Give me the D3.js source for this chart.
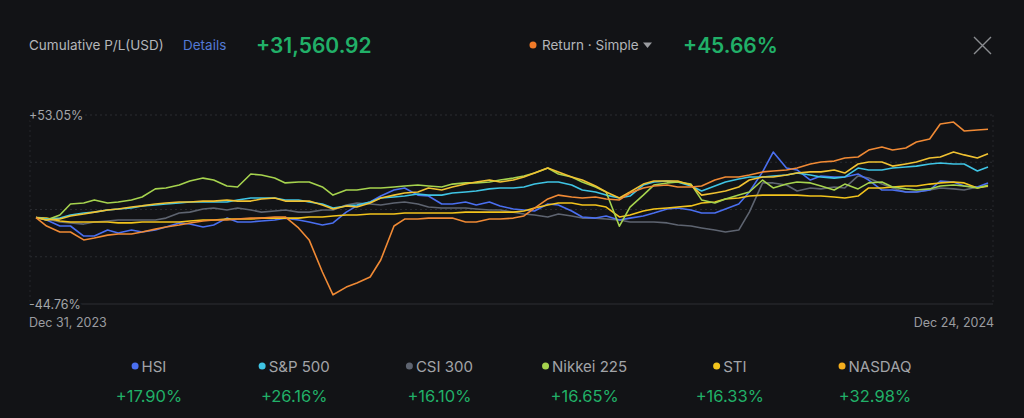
<!DOCTYPE html>
<html>
<head>
<meta charset="utf-8">
<script src="https://cdn.jsdelivr.net/npm/d3@7"></script>
<style>
html, body { margin: 0; padding: 0; background: #121316; }
svg { display: block; font-family: Inter, "Noto Sans", sans-serif; }
</style>
</head>
<body>
<svg id="chart" width="1024" height="418"></svg>
<script>
// sample dates: evenly spaced between the two axis dates
var startDate = new Date(2023, 11, 31);
var endDate = new Date(2024, 11, 24);
var sampleCount = 81;

// cumulative return (%)
var hsi = [0,-1.3,-4.4,-4.4,-9.6,-9.6,-6.5,-8.0,-6.5,-7.5, -6.5,-4.9,-2.8,-3.4,-4.9,-3.9,-0.3,-2.3,-2.3,-1.8,
  -1.3,-0.3,-1.3,-2.3,-3.9,-2.8,2.8,6.0,8.0,11.1, 14.2,15.3,11.6,11.1,7.0,7.0,8.0,6.5,8.0,6.0,
  4.4,3.9,3.4,7.0,6.5,3.4,0.3,-0.3,0.8,-1.3, -0.3,0.8,2.3,4.4,4.9,3.9,2.3,2.3,4.4,7.0,
  13.2,23.6,33.9,25.6,24.6,19.4,21.5,21.0,21.0,22.5, 19.4,14.2,14.2,13.2,13.2,14.2,18.9,18.4,16.3,15.8, 17.90];
var sp500 = [0,-0.8,-0.3,1.3,2.3,2.8,3.9,4.4,4.9,6.0, 6.5,7.0,7.5,8.0,8.0,8.0,8.0,9.1,10.1,10.1,
  10.1,9.1,9.1,8.0,7.0,4.9,6.0,6.5,8.0,10.1, 10.6,11.1,12.2,11.6,11.6,12.7,13.2,13.7,14.8,15.3,
  15.3,15.8,17.3,18.4,18.4,16.8,14.2,13.2,11.6,10.1, 11.1,16.8,18.4,18.9,18.4,16.3,13.7,16.3,18.4,19.9,
  21.0,21.0,21.5,22.0,23.0,22.0,21.0,20.4,21.0,25.6, 24.6,24.6,25.6,26.1,26.6,27.7,28.2,27.7,27.7,24.1, 26.16];
var csi300 = [0,-0.8,-2.3,-2.8,-3.4,-2.3,-1.8,-1.3,-1.3,-1.3, -1.3,-0.3,2.3,2.8,4.4,4.9,3.9,4.9,3.9,2.8,
  3.4,3.9,2.8,2.8,3.9,3.9,6.5,7.5,7.0,6.5, 7.5,8.0,7.0,5.4,4.9,4.9,4.9,4.4,3.9,3.9,
  2.8,1.8,1.3,0.3,1.8,0.8,-0.3,-0.3,-0.8,-1.3, -2.3,-2.3,-2.3,-2.8,-3.9,-4.4,-5.4,-6.5,-7.5,-6.5,
  2.8,17.9,17.9,16.8,13.7,15.3,14.8,15.8,15.3,21.5, 20.4,17.3,15.3,13.2,13.2,14.2,15.3,14.8,14.2,15.8, 16.10];
var nikkei = [0,-1.3,1.3,7.0,7.5,9.1,7.5,8.0,9.1,10.6, 14.8,15.3,16.8,18.9,20.4,19.4,16.3,15.8,22.5,22.0,
  20.4,17.9,18.4,18.4,15.8,11.6,14.2,14.2,15.3,15.3, 15.8,16.3,16.8,16.3,15.8,17.3,17.9,17.9,18.4,19.4,
  20.4,21.5,23.0,25.6,22.5,21.0,18.4,15.8,13.2,-4.5, 5.4,11.6,16.8,17.9,18.4,17.3,9.1,7.5,9.6,11.6,
  13.2,19.4,15.3,17.3,18.4,17.9,16.3,14.2,17.3,14.8, 17.9,18.4,15.8,14.8,14.2,14.8,16.3,16.8,16.3,15.3, 16.65];
var sti = [0,-0.3,-1.8,-2.3,-2.3,-2.3,-2.3,-2.8,-2.8,-2.3, -2.3,-2.3,-2.3,-1.8,-1.3,-1.3,-0.8,-0.8,-0.8,-0.3,
  -0.3,-0.3,-0.3,0.3,0.3,0.8,1.3,1.3,1.8,1.8, 1.8,2.3,2.3,2.3,2.3,2.3,2.8,2.8,2.8,2.8,
  2.8,3.4,4.9,6.5,7.5,7.5,6.5,6.5,5.4,0.3, 1.3,3.4,4.4,4.9,5.4,6.0,7.5,8.0,9.6,10.1,
  11.1,11.6,11.6,11.6,11.6,11.1,11.1,10.6,10.1,11.1, 15.3,15.3,15.8,16.3,16.3,17.3,17.9,18.4,17.9,15.3, 16.33];
var nasdaq = [0,-1.3,-0.8,0.8,1.8,2.8,3.9,4.4,5.4,6.0, 7.0,7.5,8.0,8.0,8.5,8.5,9.1,8.5,8.5,9.6,
  10.1,8.5,8.5,8.5,6.5,4.4,6.0,5.4,7.5,10.1, 11.6,12.7,13.2,15.3,14.2,15.8,17.3,18.4,19.4,18.4,
  19.4,21.0,23.0,25.6,23.6,21.0,19.4,16.3,13.2,10.1, 13.2,17.3,18.9,18.9,18.9,16.8,11.6,12.7,13.7,15.8,
  19.4,21.0,21.0,22.0,23.0,23.6,23.6,24.6,23.0,27.7, 28.7,28.7,26.6,27.7,28.7,30.8,31.3,33.9,32.4,30.8, 32.98];
var portfolio = [0,-4.4,-7.5,-7.5,-11.6,-10.6,-9.1,-8.5,-8.5,-7.5, -6.0,-4.9,-3.9,-2.8,-1.8,-1.3,-1.3,-0.8,-0.3,-0.3,
  0.3,0.3,-5.4,-11.6,-28.2,-40.0,-36.0,-33.9,-30.8,-22.0, -4.4,-0.8,-0.8,-0.3,-0.3,-0.3,-2.3,-2.3,-0.8,-0.8,
  -0.3,0.8,4.9,9.6,11.6,10.6,10.1,10.6,9.6,9.1, 12.7,15.3,16.3,16.8,15.8,15.8,16.3,19.4,21.0,21.0,
  22.0,23.6,24.1,24.6,25.6,27.7,28.7,29.2,30.8,31.3, 34.9,36.5,34.9,36.0,39.1,40.6,48.4,49.4,44.8,45.3, 45.66];

var legendNames = ['HSI', 'S&P 500', 'CSI 300', 'Nikkei 225', 'STI', 'NASDAQ'];
var legendValues = ['+17.90%', '+26.16%', '+16.10%', '+16.65%', '+16.33%', '+32.98%'];
var legendColors = ['#4a6ff0', '#3fc4e4', '#5e6470', '#a6d34e', '#f3c41c', '#f2ad1e'];
var yMin = -44.76, yMax = 53.05;
var yTickLabels = ['+53.05%', '-44.76%'];
var xTickLabels = ['Dec 31, 2023', 'Dec 24, 2024'];

var bg = '#121316';
var green = '#21b068';
var svg = d3.select('#chart');

var dates = d3.range(sampleCount).map(function(i) {
	return d3.timeDay.offset(startDate, Math.round(i * d3.timeDay.count(startDate, endDate) / (sampleCount - 1)));
});

var x = d3.scaleTime().domain([startDate, endDate]).range([36, 988]);
var y = d3.scaleLinear().domain([yMin, yMax]).range([304, 115]);

//header
svg.append('text').attr('x', 29).attr('y', 50).attr('fill', '#b4b6ba')
	.style('font-size', '13.5px').text('Cumulative P/L(USD)');
svg.append('text').attr('x', 183).attr('y', 50).attr('fill', '#5279d4')
	.style('font-size', '13.5px').text('Details');
svg.append('text').attr('x', 256).attr('y', 53).attr('fill', green)
	.style('font-size', '21px').style('font-weight', 600).text('+31,560.92');
svg.append('circle').attr('cx', 533).attr('cy', 45).attr('r', 3.5).attr('fill', '#f07a28');
svg.append('text').attr('x', 542).attr('y', 49.5).attr('fill', '#b4b6ba')
	.style('font-size', '13.5px').text('Return · Simple');
svg.append('path').attr('d', 'M643,42.5 L652,42.5 L647.5,48 Z').attr('fill', '#9a9ca0');
svg.append('text').attr('x', 683).attr('y', 53).attr('fill', green)
	.style('font-size', '21px').style('font-weight', 600).text('+45.66%');
svg.append('path').attr('d', 'M974,37 L991,54 M991,37 L974,54')
	.attr('stroke', '#8a8c90').attr('stroke-width', 1.4);

//grid
var grid = svg.append('g');
var gridVals = d3.range(5).map(function(i) { return yMax - i * (yMax - yMin) / 4; });
grid.selectAll('line.h').data(gridVals).enter().append('line')
	.attr('x1', 30).attr('x2', 993)
	.attr('y1', function(d) { return y(d); }).attr('y2', function(d) { return y(d); })
	.attr('stroke', function(d, i) { return i == 4 ? '#2c2e33' : '#2a2c31'; })
	.attr('stroke-dasharray', function(d, i) { return i == 4 ? null : '2,3'; });
grid.selectAll('line.v').data([30, 993]).enter().append('line')
	.attr('x1', function(d) { return d; }).attr('x2', function(d) { return d; })
	.attr('y1', 115).attr('y2', 304)
	.attr('stroke', '#25272b').attr('stroke-dasharray', '2,3');

//y labels on top of the grid
svg.selectAll('text.ylab').data([yMax, yMin]).enter().append('text')
	.attr('x', 29).attr('y', function(d) { return y(d) + 5; })
	.attr('fill', '#a4a6aa').style('font-size', '12.5px')
	.attr('stroke', bg).attr('stroke-width', 5).style('paint-order', 'stroke')
	.text(function(d, i) { return yTickLabels[i]; });

//x labels
svg.append('text').attr('x', 29).attr('y', 327).attr('fill', '#9a9ca0')
	.style('font-size', '12.5px').text(xTickLabels[0]);
svg.append('text').attr('x', 994).attr('y', 327).attr('fill', '#9a9ca0')
	.attr('text-anchor', 'end').style('font-size', '12.5px').text(xTickLabels[1]);

//lines
var series = [
	{values: csi300, color: legendColors[2]},
	{values: hsi, color: legendColors[0]},
	{values: sti, color: legendColors[4]},
	{values: sp500, color: legendColors[1]},
	{values: nikkei, color: legendColors[3]},
	{values: nasdaq, color: '#f0c232'},
	{values: portfolio, color: '#f08a35'}
];
var line = d3.line()
	.x(function(d, i) { return x(dates[i]); })
	.y(function(d) { return y(d); });
svg.append('g').selectAll('path').data(series).enter().append('path')
	.attr('d', function(d) { return line(d.values); })
	.attr('fill', 'none')
	.attr('stroke', function(d) { return d.color; })
	.attr('stroke-width', 1.6)
	.attr('stroke-linejoin', 'round');

//legend
var legend = svg.append('g');
legendNames.forEach(function(name, i) {
	var cx = 149 + 145.2 * i;
	var g = legend.append('g');
	var label = g.append('text').attr('y', 371.5).attr('fill', '#a2a4a8')
		.style('font-size', '15px').text(name);
	var w = label.node().getComputedTextLength();
	var left = cx - (w + 10) / 2;
	g.append('circle').attr('cx', left + 3.5).attr('cy', 366).attr('r', 3.5).attr('fill', legendColors[i]);
	label.attr('x', left + 10);
	legend.append('text').attr('x', cx).attr('y', 402).attr('text-anchor', 'middle')
		.attr('fill', green).style('font-size', '16.5px').text(legendValues[i]);
});
</script>
</body>
</html>
